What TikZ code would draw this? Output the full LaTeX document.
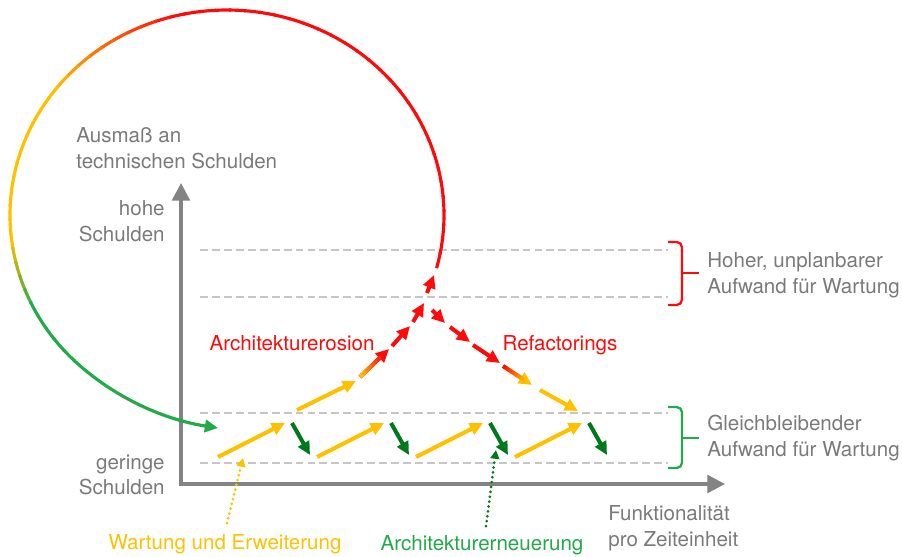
\documentclass[tikz,border=0pt]{standalone}
\usepackage{fontspec}
\setmainfont{TeX Gyre Heros}
\usetikzlibrary{arrows.meta,calc}

\definecolor{tgray}{HTML}{7A7A7A}
\definecolor{agray}{HTML}{838383}
\definecolor{lgray}{HTML}{C6C6C6}
\definecolor{dred}{HTML}{FF0A0A}
\definecolor{dyellow}{HTML}{FFC000}
\definecolor{lgreen}{HTML}{22AA48}
\definecolor{dgreen}{HTML}{00781C}

% arrow that fades from #3 into #4
\newcommand{\fadearrow}[4]{%
  \draw[seg, #4] (#1) -- (#2);
  \foreach \k in {0,...,6}{
    \pgfmathtruncatemacro\p{100-\k*14}
    \pgfmathsetmacro\ua{\k/10}
    \pgfmathsetmacro\ub{(\k+1)/10+0.01}
    \draw[seg, -, #3!\p!#4] ($(#1)!\ua!(#2)$) -- ($(#1)!\ub!(#2)$);
  }
}

\begin{document}
\begin{tikzpicture}[x=0.02cm, y=0.02cm,
  every node/.style={font=\fontsize{11.7}{14.5}\selectfont, inner sep=0pt},
  seg/.style={line width=2.3pt, -{Triangle[length=7.5pt,width=7pt]}},
  axis/.style={line width=2pt, agray, {Triangle[length=10pt,width=10pt]}-{Triangle[length=10pt,width=10pt]}},
  guide/.style={line width=1.1pt, lgray, dash pattern=on 4.5pt off 2.3pt},
  bracket/.style={line width=1.3pt, rounded corners=3},
  pointer/.style={line width=1.7pt, line cap=round, dash pattern=on 0pt off 2.8pt, -{Triangle[length=5pt,width=5pt]}},
  loopline/.style={line width=1.8pt}]
\useasboundingbox (0,0) rectangle (902,-556);

% axes
\coordinate (origin) at (181,-484);
\coordinate (ytop) at (181,-183);
\coordinate (xend) at (725,-484);
\draw[axis] (ytop) -- (origin) -- (xend);

% levels
\foreach \y in {250,297,413,463}
  \draw[guide] (200,-\y) -- (668,-\y);

% big loop back to low debt
\coordinate (c) at (227,-215);
\foreach \t in {-15,-11,...,221}{
  \pgfmathtruncatemacro\p{min(100,max(0,(\t-102)*2.6))}
  \pgfmathtruncatemacro\q{max(0,100-max(0,(\t-185)*5))}
  \draw[loopline, dyellow!\p!dred!\q!lgreen] (c) ++(\t:217 and 205)
    arc[start angle=\t, end angle=\t+4.5, x radius=217, y radius=205];
}
\coordinate (bend) at (73.6,-360);
\coordinate (back) at (218,-428);
\draw[loopline, lgreen, -{Triangle[length=7.5pt,width=7pt]}]
  (bend) .. controls (110,-394) and (158.7,-418.7) .. (back);

% maintenance and renewal
\foreach \i in {0,...,3}{
  \pgfmathsetmacro\dx{99*\i}
  \coordinate (ws\i) at (218+\dx,-457);
  \coordinate (we\i) at (285+\dx,-423);
  \coordinate (ns\i) at (292+\dx,-423);
  \coordinate (ne\i) at (310+\dx,-455);
  \draw[seg, dyellow] (ws\i) -- (we\i);
  \draw[seg, dgreen] (ns\i) -- (ne\i);
}

% erosion
\coordinate (e0) at (297,-410); \coordinate (e1) at (356,-381);
\coordinate (e2) at (360,-377); \coordinate (e3) at (389,-349);
\coordinate (e4) at (392,-346); \coordinate (e5) at (410,-326);
\coordinate (e6) at (413,-322); \coordinate (e7) at (424,-303);
\coordinate (e8) at (427,-293); \coordinate (e9) at (434,-275);
\draw[seg, dyellow] (e0) -- (e1);
\fadearrow{e2}{e3}{dyellow}{dred}
\draw[seg, dred] (e4) -- (e5);
\draw[seg, dred] (e6) -- (e7);
\draw[seg, dred] (e8) -- (e9);

% refactorings
\coordinate (r0) at (432,-310); \coordinate (r1) at (445,-323);
\coordinate (r2) at (450,-327); \coordinate (r3) at (470,-342);
\coordinate (r4) at (473,-345); \coordinate (r5) at (500,-363);
\coordinate (r6) at (503,-366); \coordinate (r7) at (532,-385);
\coordinate (r8) at (540,-390); \coordinate (r9) at (578,-411);
\draw[seg, dred] (r0) -- (r1);
\draw[seg, dred] (r2) -- (r3);
\draw[seg, dred] (r4) -- (r5);
\fadearrow{r6}{r7}{dred}{dyellow}
\draw[seg, dyellow] (r8) -- (r9);

% brackets
\draw[bracket, dred] (668,-242) -- (682,-242) -- (682,-305) -- (668,-305);
\draw[bracket, dred] (682,-273) -- (699,-273);
\draw[bracket, lgreen] (668,-407) -- (682,-407) -- (682,-468) -- (668,-468);
\draw[bracket, lgreen] (682,-438) -- (699,-438);

% labels
\node[tgray, anchor=west, align=left] (ausmass) at (76,-148) {Ausmaß an\\technischen Schulden};
\node[tgray, anchor=east, align=right] (hohe) at (165,-221) {hohe\\Schulden};
\node[tgray, anchor=east, align=right] (geringe) at (165,-475) {geringe\\Schulden};
\node[tgray, anchor=west, align=left] (funkt) at (608,-528) {Funktionalität\\pro Zeiteinheit};
\node[tgray, anchor=west, align=left] (hoch) at (707,-275) {Hoher, unplanbarer\\Aufwand für Wartung};
\node[tgray, anchor=west, align=left] (gleich) at (707,-438) {Gleichbleibender\\Aufwand für Wartung};
\node[dred] (erosion) at (292,-343) {Architekturerosion};
\node[dred] (refac) at (560,-345) {Refactorings};
\node[dyellow] (wartung) at (225,-544) {Wartung und Erweiterung};
\node[lgreen] (erneu) at (482,-545) {Architekturerneuerung};

% pointers
\coordinate (wp) at (227,-523); \coordinate (wt) at (243,-458);
\coordinate (np) at (486,-526); \coordinate (nt) at (496,-450);
\draw[pointer, dyellow] (wp) -- (wt);
\draw[pointer, dgreen] (np) -- (nt);
\end{tikzpicture}
\end{document}
